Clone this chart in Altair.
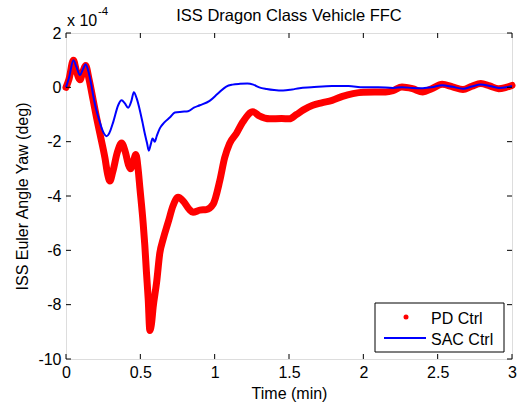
import altair as alt
import pandas as pd

# Time (min) and ISS Euler angle yaw (x 1e-4 deg)
t_pd = [0, 0.02, 0.05, 0.07, 0.094, 0.115, 0.132, 0.155, 0.183, 0.205, 0.228, 0.262, 0.28, 0.295,
        0.315, 0.345, 0.374, 0.4, 0.42, 0.434, 0.452, 0.47, 0.485, 0.497, 0.519, 0.53, 0.541,
        0.553, 0.564, 0.575, 0.586, 0.609, 0.631, 0.653, 0.687, 0.72, 0.754, 0.79, 0.83, 0.854,
        0.9, 0.944, 0.99, 1.034, 1.067, 1.1, 1.146, 1.19, 1.257, 1.3, 1.37, 1.45, 1.503, 1.55,
        1.6, 1.66, 1.72, 1.79, 1.86, 1.93, 2.0, 2.15, 2.2, 2.26, 2.33, 2.4, 2.46, 2.53, 2.6,
        2.67, 2.73, 2.79, 2.85, 2.91, 2.96, 3.0]
y_pd = [0, 0.3, 1.0, 0.6, 0.28, 0.6, 0.8, 0.3, -0.48, -1.1, -1.7, -2.6, -3.2, -3.45,
        -3.1, -2.4, -2.05, -2.4, -2.85, -3.0, -2.75, -2.47, -3.0, -3.7, -5.0, -5.8, -6.8,
        -7.8, -8.95, -8.7, -8.1, -7.2, -6.1, -5.6, -4.97, -4.36, -4.05, -4.2, -4.5, -4.6,
        -4.52, -4.5, -4.3, -3.45, -2.6, -2.07, -1.7, -1.27, -0.9, -1.05, -1.16, -1.15, -1.16, -1.0,
        -0.82, -0.66, -0.57, -0.48, -0.33, -0.23, -0.18, -0.17, -0.12, 0.01, -0.05, -0.17, -0.05, 0.11, 0.02,
        -0.08, 0.04, 0.14, 0.05, -0.05, 0.0, 0.07]

t_sac = [0, 0.02, 0.05, 0.07, 0.094, 0.115, 0.132, 0.15, 0.17, 0.183, 0.2, 0.217, 0.25, 0.273,
         0.29, 0.318, 0.351, 0.374, 0.395, 0.418, 0.44, 0.456, 0.475, 0.497, 0.515, 0.53, 0.545,
         0.557, 0.57, 0.582, 0.597, 0.61, 0.631, 0.66, 0.7, 0.732, 0.78, 0.821, 0.86, 0.9, 0.966,
         1.02, 1.078, 1.12, 1.17, 1.22, 1.26, 1.3, 1.35, 1.4, 1.46, 1.52, 1.57, 1.65, 1.79, 1.9,
         2.0, 2.1, 2.2, 2.26, 2.33, 2.4, 2.46, 2.53, 2.6, 2.67, 2.73, 2.79, 2.85, 2.91, 2.96, 3.0]
y_sac = [0, 0.35, 1.0, 0.75, 0.45, 0.68, 0.85, 0.6, 0.1, -0.3, -0.75, -1.09, -1.64, -1.8,
         -1.7, -1.27, -0.66, -0.48, -0.58, -0.75, -0.5, -0.18, -0.4, -0.85, -1.3, -1.7, -2.05,
         -2.33, -2.1, -1.88, -2.0, -1.8, -1.51, -1.3, -1.1, -0.93, -0.9, -0.88, -0.75, -0.66, -0.5,
         -0.24, 0.03, 0.1, 0.13, 0.14, 0.1, 0.0, -0.06, -0.1, -0.12, -0.08, -0.03, 0.0, 0.05, 0.05,
         0.0, 0.0, -0.02, 0.0, -0.02, -0.03, 0.0, 0.08, 0.02, -0.05, 0.03, 0.1, 0.05, -0.02, 0.0, 0.05]

x_ticks = [0, 0.5, 1, 1.5, 2, 2.5, 3]
y_ticks = [-10, -8, -6, -4, -2, 0, 2]

W, H = 446, 326
FONT = "Liberation Sans"
FS = 16

pd_df = pd.DataFrame({"t": t_pd, "y": y_pd})
sac_df = pd.DataFrame({"t": t_sac, "y": y_sac})

xs = alt.Scale(domain=[0, 3], nice=False, zero=False)
ys = alt.Scale(domain=[-10, 2], nice=False, zero=False)

xaxis = alt.Axis(values=x_ticks, ticks=False, domain=False, grid=False, labelFontSize=FS,
                 labelFont=FONT, labelColor="black", labelPadding=5, title="Time (min)",
                 titleFont=FONT, titleFontSize=FS, titleFontWeight="normal", titleColor="black",
                 titlePadding=5, labelFlush=False, labelExpr="toString(datum.value)")
yaxis = alt.Axis(values=y_ticks, ticks=False, domain=False, grid=False, labelFontSize=FS,
                 labelFont=FONT, labelColor="black", labelPadding=5,
                 title="ISS Euler Angle Yaw (deg)", titleFont=FONT, titleFontSize=FS,
                 titleFontWeight="normal", titleColor="black", titlePadding=7, labelFlush=False,
                 labelExpr="toString(datum.value)")

red = alt.Chart(pd_df).mark_line(color="#ff0000", strokeWidth=7, strokeCap="round",
                                 strokeJoin="round", interpolate="monotone").encode(
    x=alt.X("t:Q", scale=xs, axis=xaxis),
    y=alt.Y("y:Q", scale=ys, axis=yaxis),
    order="t:Q")
blue = alt.Chart(sac_df).mark_line(color="#0000ff", strokeWidth=2,
                                   interpolate="monotone").encode(
    x=alt.X("t:Q", scale=xs), y=alt.Y("y:Q", scale=ys), order="t:Q")

xt = pd.DataFrame({"v": x_ticks})
yt = pd.DataFrame({"v": y_ticks})
tick_layers = [
    alt.Chart(xt).mark_rule(color="black", strokeWidth=1).encode(
        x=alt.X("v:Q", scale=xs), y=alt.value(H - 5), y2=alt.value(H)),
    alt.Chart(xt).mark_rule(color="black", strokeWidth=1).encode(
        x=alt.X("v:Q", scale=xs), y=alt.value(0), y2=alt.value(5)),
    alt.Chart(yt).mark_rule(color="black", strokeWidth=1).encode(
        y=alt.Y("v:Q", scale=ys), x=alt.value(0), x2=alt.value(5)),
    alt.Chart(yt).mark_rule(color="black", strokeWidth=1).encode(
        y=alt.Y("v:Q", scale=ys), x=alt.value(W - 5), x2=alt.value(W)),
]

one = pd.DataFrame({"a": [0]})
title_txt = alt.Chart(one).mark_text(font=FONT, fontSize=16.5, align="center",
                                     baseline="alphabetic", color="black").encode(
    x=alt.value(W / 2), y=alt.value(-12), text=alt.value("ISS Dragon Class Vehicle FFC"))
exp_base = alt.Chart(one).mark_text(font=FONT, fontSize=FS, align="left", baseline="alphabetic",
                                    color="black").encode(
    x=alt.value(1), y=alt.value(-7), text=alt.value("x 10"))
exp_sup = alt.Chart(one).mark_text(font=FONT, fontSize=11.5, align="left", baseline="alphabetic",
                                   color="black").encode(
    x=alt.value(32), y=alt.value(-18), text=alt.value("-4"))

# legend box
leg_box = alt.Chart(one).mark_rect(fill="white", stroke="black", strokeWidth=1).encode(
    x=alt.value(309), x2=alt.value(438), y=alt.value(270), y2=alt.value(319))
leg_dot = alt.Chart(one).mark_point(filled=True, color="#ff0000", size=25, opacity=1).encode(
    x=alt.value(340), y=alt.value(284))
leg_line = alt.Chart(one).mark_rule(color="#0000ff", strokeWidth=2).encode(
    x=alt.value(318), x2=alt.value(360), y=alt.value(305))
leg_t1 = alt.Chart(one).mark_text(font=FONT, fontSize=FS, align="left", baseline="alphabetic",
                                  color="black").encode(
    x=alt.value(365), y=alt.value(291), text=alt.value("PD  Ctrl"))
leg_t2 = alt.Chart(one).mark_text(font=FONT, fontSize=FS, align="left", baseline="alphabetic",
                                  color="black").encode(
    x=alt.value(365), y=alt.value(312), text=alt.value("SAC Ctrl"))

chart = alt.layer(red, blue, *tick_layers, title_txt, exp_base, exp_sup, leg_box, leg_dot,
                  leg_line, leg_t1, leg_t2).properties(
    width=W, height=H,
    autosize=alt.AutoSizeParams(type="none"),
    padding={"left": 66, "top": 33, "right": 7, "bottom": 49},
).configure_view(stroke="black", strokeWidth=1).configure(background="white")

chart.save("out.html", embed_options={"renderer": "svg", "actions": False})
